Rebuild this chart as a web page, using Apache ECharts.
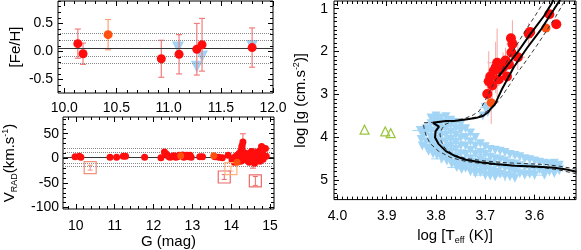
<!DOCTYPE html>
<html><head><meta charset="utf-8">
<script src="https://cdn.jsdelivr.net/npm/echarts@6/dist/echarts.min.js"></script>
<style>html,body{margin:0;padding:0;background:#fff}#c{width:581px;height:250px}</style>
</head><body><div id="c"></div>
<script>
// ---------------- Panel A : [Fe/H] vs G ----------------
const fehRed = [ // [G, FeH, err]
  [10.13, 0.14, 0.26], [10.18, -0.04, 0.19], [10.93, -0.13, 0.33], [11.10, -0.05, 0.35],
  [11.27, 0.04, 0.46], [11.32, 0.12, 0.47], [11.80, 0.07, 0.35]
];
const fehOrange = [[10.42, 0.30, 0.27]];
const fehBlue = [[11.09, 0.07], [11.27, -0.27], [11.32, -0.09], [11.80, 0.10]];
const fehMean = 0.06;
const fehBands = [0.33, 0.20, -0.08, -0.21];
const fehXTicks = [10.0, 10.5, 11.0, 11.5, 12.0];
const fehYTicks = [-0.5, 0.0, 0.5];

// ---------------- Panel B : V_RAD vs G ----------------
const vRed = [
  [9.98,3],[10.09,4],[10.13,2],[10.88,2],[11.05,2],[11.22,4],[11.28,4],[11.77,2],[12.19,1],
  [12.28,13],[12.33,9],[12.38,4],[12.42,2],[12.47,3],[12.52,5],[12.57,2],[12.62,3],[12.66,6],
  [12.75,7],[12.78,2],[12.82,4],[12.86,6],[12.90,3],[12.94,6],[12.97,2],[13.19,3],[13.26,3],
  [13.58,3],[13.68,2],[13.77,1],[13.92,6],
  [14.02,-3],[14.06,0],[14.08,-8],[14.10,3],[14.12,-5],[14.15,6],[14.18,-2],[14.20,10],[14.22,2],
  [14.24,-6],[14.25,15],[14.27,22],[14.28,26],[14.30,33],[14.30,5],[14.32,-3],[14.33,12],[14.35,0],
  [14.37,8],[14.40,-4],[14.42,3],[14.44,10],[14.46,-8],[14.48,0],[14.50,6],[14.52,14],[14.54,-5],
  [14.56,2],[14.58,9],[14.60,-10],[14.62,4],[14.64,12],[14.66,-3],[14.68,7],[14.70,0],[14.72,15],
  [14.74,-6],[14.76,3],[14.78,24],[14.80,9],[14.82,-2],[14.85,5],[14.88,20],[14.90,4]
];
const vOrange = [[12.70,5],[13.55,5],[14.15,-8]];
const vRedErr = [[14.30,33,0,17],[14.56,0,0,20],[14.78,24,0,3]];
const vSquares = [ // [G, V, halfBar]
  [10.37,-19,5],[13.82,-38,5],[13.99,-21,5],[14.62,-46,9]
];
const vSquareColors = ['#f2907a','#f06a6a','#ffb27a','#f06a6a'];
const vMean = 2;
const vBands = [20, 13, -9, -16];
const vXTicks = [10, 11, 12, 13, 14, 15];
const vYTicks = [-100, -50, 0, 50];

// ---------------- Panel C : log g vs log Teff ----------------
const hrRed = [
  [3.556,1.36],[3.570,1.13],[3.609,1.54],[3.612,1.58],[3.648,1.69],[3.645,1.82],[3.647,2.02],
  [3.634,2.13],[3.659,2.21],[3.676,2.26],[3.679,2.37],[3.664,2.37],[3.669,2.43],[3.656,2.58],
  [3.690,2.58],[3.673,2.65],[3.693,2.69],[3.686,2.79],[3.696,2.99],[3.683,2.45],[3.652,2.30]
];
const hrOrange = [[3.577,1.45],[3.688,3.19]];
const hrRedErr = [
  [3.645,1.82,0.012,0.55],[3.676,2.26,0.02,0.8],[3.693,2.69,0.012,0.7],[3.686,2.79,0.015,0.5],
  [3.659,2.21,0.02,0.3],[3.696,2.99,0.01,0.45],[3.612,1.58,0.01,0.25],[3.664,2.37,0.02,0.35],
  [3.634,2.13,0.015,0.3],[3.688,3.19,0.015,0.5],[3.679,2.37,0.01,0.6]
];
const hrGreen = [[3.945,3.82],[3.903,3.86],[3.892,3.90]];
const hrBlue = [
  [3.830,4.05],[3.828,4.20],[3.826,3.95],
  [3.82,3.80],[3.82,3.90],[3.82,4.10],[3.818,4.25],[3.815,4.32],
  [3.81,3.55],[3.81,3.68],[3.81,3.85],[3.81,4.00],[3.81,4.15],[3.808,4.28],[3.806,4.38],
  [3.80,3.50],[3.80,3.62],[3.80,3.75],[3.80,3.90],[3.80,4.05],[3.80,4.20],[3.80,4.33],[3.798,4.42],
  [3.79,3.55],[3.79,3.68],[3.79,3.82],[3.79,3.97],[3.79,4.12],[3.79,4.25],[3.79,4.38],[3.788,4.50],
  [3.78,3.52],[3.78,3.66],[3.78,3.80],[3.78,3.95],[3.78,4.10],[3.78,4.25],[3.78,4.40],[3.778,4.55],
  [3.77,3.60],[3.77,3.72],[3.77,3.88],[3.77,4.05],[3.77,4.20],[3.77,4.35],[3.77,4.50],[3.768,4.62],
  [3.76,3.65],[3.76,3.80],[3.76,3.95],[3.76,4.12],[3.76,4.28],[3.76,4.45],[3.76,4.60],[3.758,4.70],
  [3.75,3.70],[3.75,3.85],[3.75,4.02],[3.75,4.20],[3.75,4.38],[3.75,4.55],[3.75,4.68],[3.748,4.75],
  [3.74,3.80],[3.74,4.00],[3.74,4.20],[3.74,4.40],[3.74,4.58],[3.74,4.72],
  [3.73,3.90],[3.73,4.10],[3.73,4.30],[3.73,4.50],[3.73,4.65],[3.73,4.80],
  [3.72,4.00],[3.72,4.20],[3.72,4.40],[3.72,4.58],[3.72,4.72],[3.72,4.84],
  [3.71,4.15],[3.71,4.35],[3.71,4.52],[3.71,4.68],[3.71,4.82],
  [3.70,4.22],[3.70,4.40],[3.70,4.58],[3.70,4.74],[3.70,4.88],
  [3.69,4.28],[3.69,4.46],[3.69,4.62],[3.69,4.78],[3.69,4.90],
  [3.68,4.30],[3.68,4.50],[3.68,4.66],[3.68,4.82],[3.68,4.92],
  [3.67,4.32],[3.67,4.52],[3.67,4.70],[3.67,4.86],
  [3.66,4.35],[3.66,4.55],[3.66,4.72],[3.66,4.90],
  [3.65,4.40],[3.65,4.60],[3.65,4.76],[3.65,4.92],
  [3.64,4.42],[3.64,4.62],[3.64,4.80],[3.64,4.95],
  [3.63,4.45],[3.63,4.66],[3.63,4.85],
  [3.62,4.50],[3.62,4.70],[3.62,4.88],
  [3.61,4.52],[3.61,4.72],[3.61,4.86],
  [3.60,4.55],[3.60,4.74],[3.60,4.88],
  [3.59,4.58],[3.59,4.76],
  [3.58,4.60],[3.58,4.78],[3.58,4.88],
  [3.57,4.62],[3.57,4.80],
  [3.56,4.60],[3.56,4.72],[3.56,4.84],
  [3.55,4.65],[3.55,4.78],
  [3.832,3.84],[3.700,3.30],[3.695,3.42],[3.705,3.50]
];
const hrBlueErr = [
  [3.832,3.84,0.016,0.05],[3.81,3.68,0.012,0.10],[3.80,4.05,0.010,0.12],[3.79,3.82,0.012,0.10],
  [3.78,4.25,0.015,0.12],[3.77,3.72,0.010,0.08],[3.76,4.45,0.015,0.15],[3.75,4.02,0.012,0.10],
  [3.74,4.58,0.020,0.12],[3.73,4.30,0.015,0.10],[3.72,4.72,0.020,0.15],[3.71,4.52,0.015,0.12],
  [3.70,4.88,0.025,0.10],[3.69,4.62,0.015,0.12],[3.68,4.82,0.020,0.15],[3.67,4.52,0.015,0.10],
  [3.66,4.90,0.020,0.12],[3.65,4.60,0.015,0.10],[3.64,4.80,0.020,0.15],[3.63,4.45,0.015,0.10],
  [3.62,4.70,0.020,0.12],[3.61,4.52,0.015,0.10],[3.60,4.88,0.020,0.10],[3.59,4.58,0.012,0.10],
  [3.58,4.78,0.015,0.12],[3.57,4.62,0.012,0.10],[3.56,4.72,0.010,0.10],[3.55,4.65,0.010,0.10],
  [3.79,4.50,0.020,0.10],[3.70,4.40,0.015,0.10],[3.76,3.95,0.012,0.10],[3.80,3.50,0.010,0.08],
  [3.755,4.70,0.022,0.05],[3.700,3.30,0.010,0.12]
];
const isoMain = [
  [3.515,4.80],[3.535,4.75],[3.56,4.71],[3.60,4.68],[3.64,4.66],[3.68,4.62],[3.71,4.58],
  [3.74,4.52],[3.76,4.44],[3.78,4.32],[3.795,4.15],[3.802,4.00],[3.801,3.86],[3.794,3.75],
  [3.790,3.71],[3.806,3.66],[3.796,3.64],[3.78,3.62],[3.76,3.61],[3.74,3.58],[3.72,3.55],
  [3.705,3.50],[3.695,3.42],[3.688,3.32],[3.681,3.24],[3.666,2.87],[3.642,2.36],[3.615,1.91],
  [3.588,1.50],[3.561,1.02],[3.551,0.84],[3.548,0.80]
];
const isoRgb2 = [[3.673,2.58],[3.635,2.02],[3.608,1.58],[3.581,1.17],[3.565,0.87],[3.562,0.80]];
const isoDashA = [
  [3.515,4.85],[3.55,4.76],[3.58,4.71],[3.62,4.68],[3.66,4.65],[3.70,4.62],[3.74,4.56],
  [3.77,4.47],[3.795,4.32],[3.812,4.14],[3.820,3.96],[3.824,3.80],[3.826,3.66],[3.80,3.645],
  [3.78,3.63],[3.76,3.60],[3.74,3.55],[3.725,3.48],[3.712,3.38],[3.703,3.20],[3.693,2.98],
  [3.682,2.72],[3.668,2.45],[3.652,2.15],[3.635,1.82],[3.617,1.48],[3.598,1.15],[3.582,0.85],[3.578,0.80]
];
const isoDashB = [
  [3.515,4.74],[3.55,4.67],[3.58,4.63],[3.62,4.61],[3.66,4.59],[3.70,4.55],[3.74,4.49],
  [3.765,4.40],[3.782,4.25],[3.79,4.08],[3.792,3.92],[3.788,3.80],[3.782,3.70],[3.77,3.64],
  [3.75,3.60],[3.73,3.56],[3.712,3.50],[3.698,3.40],[3.680,3.24],[3.665,3.02],[3.650,2.76],
  [3.634,2.48],[3.615,2.18],[3.595,1.85],[3.575,1.50],[3.557,1.18],[3.542,0.88],[3.537,0.80]
];
const hrXTicks = [4.0, 3.9, 3.8, 3.7, 3.6];
const hrYTicks = [1, 2, 3, 4, 5];

// ---------------- helpers ----------------
const FONT = 'Liberation Sans, Arial, Helvetica, sans-serif';
function minorList(a, b, step) {
  const out = []; const n = Math.round((b - a) / step);
  for (let i = 0; i <= n; i++) out.push(Math.round((a + i * step) * 1000) / 1000);
  return out;
}
function axisSet(dim, gi, o) {
  const base = { type: 'value', gridIndex: gi, min: o.min, max: o.max, inverse: !!o.inverse,
    axisLine: { show: false, onZero: false }, splitLine: { show: false } };
  const mainPos = dim === 'x' ? 'bottom' : 'left';
  const otherPos = dim === 'x' ? 'top' : 'right';
  const ls = { color: '#000', width: 1 };
  const tick = (vals, len) => ({ show: true, inside: true, length: len, customValues: vals, lineStyle: ls });
  return [
    Object.assign({}, base, { position: mainPos, name: o.name, nameLocation: 'middle', nameGap: o.nameGap,
      nameTextStyle: o.nameStyle,
      axisTick: tick(o.major, 5),
      axisLabel: { show: true, customValues: o.major, formatter: o.fmt, margin: o.margin,
        color: '#000', fontFamily: FONT, fontSize: 14 } }),
    Object.assign({}, base, { position: mainPos, axisTick: tick(o.minor, 3), axisLabel: { show: false } }),
    Object.assign({}, base, { position: otherPos, axisTick: tick(o.major, 5), axisLabel: { show: false } }),
    Object.assign({}, base, { position: otherPos, axisTick: tick(o.minor, 3), axisLabel: { show: false } })
  ];
}
function errSeries(gi, data, color, cap, width, z) {
  return {
    type: 'custom', xAxisIndex: gi * 4, yAxisIndex: gi * 4, clip: true, z: z || 2, silent: true,
    data: data,
    renderItem: function (params, api) {
      const x = api.value(0), y = api.value(1), ex = api.value(2), ey = api.value(3);
      const c = api.coord([x, y]);
      const st = { stroke: color, lineWidth: width };
      const ch = [];
      if (ey > 0) {
        const a = api.coord([x, y - ey]), b = api.coord([x, y + ey]);
        ch.push({ type: 'line', shape: { x1: c[0], y1: a[1], x2: c[0], y2: b[1] }, style: st });
        if (cap) {
          ch.push({ type: 'line', shape: { x1: c[0] - cap, y1: a[1], x2: c[0] + cap, y2: a[1] }, style: st });
          ch.push({ type: 'line', shape: { x1: c[0] - cap, y1: b[1], x2: c[0] + cap, y2: b[1] }, style: st });
        }
      }
      if (ex > 0) {
        const a = api.coord([x - ex, y]), b = api.coord([x + ex, y]);
        ch.push({ type: 'line', shape: { x1: a[0], y1: c[1], x2: b[0], y2: c[1] }, style: st });
        if (cap) {
          ch.push({ type: 'line', shape: { x1: a[0], y1: c[1] - cap, x2: a[0], y2: c[1] + cap }, style: st });
          ch.push({ type: 'line', shape: { x1: b[0], y1: c[1] - cap, x2: b[0], y2: c[1] + cap }, style: st });
        }
      }
      return { type: 'group', children: ch };
    }
  };
}
function scatter(gi, data, opts) {
  const s = Object.assign({ type: 'scatter', xAxisIndex: gi * 4, yAxisIndex: gi * 4, data: data,
    symbol: 'circle', symbolSize: 8, silent: true, z: 3 }, opts);
  s.itemStyle = Object.assign({ opacity: 1 }, s.itemStyle || {});
  return s;
}
function lineS(gi, data, color, width, type, z) {
  return { type: 'line', xAxisIndex: gi * 4, yAxisIndex: gi * 4, data: data, showSymbol: false,
    symbol: 'none', silent: true, z: z || 4, lineStyle: { color: color, width: width, type: type } };
}
function hline(gi, y, color, type, width) {
  return { type: 'line', xAxisIndex: gi * 4, yAxisIndex: gi * 4, data: [], silent: true, z: 1,
    markLine: { silent: true, symbol: 'none', label: { show: false }, animation: false,
      lineStyle: { color: color, type: type, width: width }, data: [{ yAxis: y }] } };
}
const nameBase = { color: '#000', fontFamily: FONT, fontSize: 15 };
const richName = (extra) => Object.assign({}, nameBase, { rich: {
  n: { fontSize: 15, lineHeight: 18, fontFamily: FONT, color: '#000' },
  s: { fontSize: 9, lineHeight: 9, verticalAlign: 'bottom', fontFamily: FONT, color: '#000' },
  p: { fontSize: 9, lineHeight: 9, verticalAlign: 'top', fontFamily: FONT, color: '#000' }
} }, extra || {});

const xAxes = [].concat(
  axisSet('x', 0, { min: 9.94, max: 12.0, major: fehXTicks, minor: minorList(10.0, 12.0, 0.1),
    fmt: v => v.toFixed(1), margin: 8 }),
  axisSet('x', 1, { min: 9.67, max: 15.1, major: vXTicks, minor: minorList(9.8, 15.0, 0.2),
    fmt: v => String(v), margin: 10, name: 'G (mag)', nameGap: 24, nameStyle: nameBase }),
  axisSet('x', 2, { min: 3.516, max: 4.007, inverse: true, major: hrXTicks, minor: minorList(3.52, 4.0, 0.01),
    fmt: v => v.toFixed(1), margin: 10, name: '{n|log [T}{s|eff}{n| (K)]}', nameGap: 22, nameStyle: richName() })
);
const yAxes = [].concat(
  axisSet('y', 0, { min: -0.74, max: 0.9, major: fehYTicks, minor: minorList(-0.7, 0.9, 0.1),
    fmt: v => v.toFixed(1), margin: 5, name: '[Fe/H]', nameGap: 35, nameStyle: nameBase }),
  axisSet('y', 1, { min: -103, max: 84, major: vYTicks, minor: minorList(-100, 80, 10),
    fmt: v => String(v), margin: 4, name: '{n|V}{s|RAD}{n|(km.s}{p|-1}{n|)}', nameGap: 44, nameStyle: richName() }),
  axisSet('y', 2, { min: 0.82, max: 5.45, inverse: true, major: hrYTicks, minor: minorList(0.9, 5.4, 0.1),
    fmt: v => String(v), margin: 6, name: '{n|log [g (cm.s}{p|-2}{n|)]}', nameGap: 24, nameStyle: richName() })
);

const RED = '#ff0d0d', ORANGE = '#ff5010', BLUE = '#a2d5f5', PINK = '#f47c7c';
const series = [];
// Panel A
series.push(hline(0, fehBands[0], '#888', 'dotted', 1), hline(0, fehBands[1], '#888', 'dotted', 1),
  hline(0, fehBands[2], '#888', 'dotted', 1), hline(0, fehBands[3], '#888', 'dotted', 1),
  hline(0, fehMean, '#333', 'solid', 1.2));
series.push(scatter(0, fehBlue, { symbol: 'triangle', symbolRotate: 180, symbolSize: 12, itemStyle: { color: BLUE }, z: 2 }));
series.push(errSeries(0, fehRed.map(d => [d[0], d[1], 0, d[2]]), PINK, 3, 1.2, 3));
series.push(errSeries(0, fehOrange.map(d => [d[0], d[1], 0, d[2]]), '#fca07a', 3, 1.2, 3));
series.push(scatter(0, fehRed.map(d => [d[0], d[1]]), { symbolSize: 9, itemStyle: { color: RED }, z: 5 }));
series.push(scatter(0, fehOrange.map(d => [d[0], d[1]]), { symbolSize: 9, itemStyle: { color: ORANGE }, z: 5 }));
// Panel B
series.push(hline(1, vBands[0], '#888', 'dotted', 1), hline(1, vBands[1], '#888', 'dotted', 1),
  hline(1, vBands[2], '#888', 'dotted', 1), hline(1, vBands[3], '#888', 'dotted', 1),
  hline(1, vMean, '#333', 'solid', 1.2));
series.push(errSeries(1, vRedErr, PINK, 3, 1.2, 3));
series.push(scatter(1, vRed, { symbolSize: 7, itemStyle: { color: RED }, z: 5 }));
series.push(scatter(1, vOrange, { symbolSize: 7, itemStyle: { color: ORANGE }, z: 6 }));
vSquares.forEach((d, i) => {
  series.push(scatter(1, [[d[0], d[1]]], { symbol: 'rect', symbolSize: 12,
    itemStyle: { color: 'rgba(0,0,0,0)', borderColor: vSquareColors[i], borderWidth: 1.2 }, z: 5 }));
  series.push(errSeries(1, [[d[0], d[1], 0, d[2]]], vSquareColors[i], 2.5, 1, 5));
});
// Panel C
series.push(errSeries(2, hrBlueErr, BLUE, 0, 1, 1));
series.push(scatter(2, hrBlue, { symbol: 'triangle', symbolRotate: 180, symbolSize: 9, itemStyle: { color: BLUE }, z: 2 }));
series.push(scatter(2, hrGreen, { symbol: 'triangle', symbolSize: 9,
  itemStyle: { color: 'rgba(0,0,0,0)', borderColor: '#9bc53d', borderWidth: 1.2 }, z: 3 }));
series.push(errSeries(2, hrRedErr, '#f7a5a5', 0, 1, 2));
series.push(scatter(2, hrRed, { symbolSize: 10, itemStyle: { color: RED }, z: 3 }));
series.push(scatter(2, hrOrange, { symbolSize: 9, itemStyle: { color: ORANGE }, z: 3 }));
series.push(lineS(2, isoDashA, '#333', 1, [4, 3], 4));
series.push(lineS(2, isoDashB, '#333', 1, [4, 3], 4));
series.push(lineS(2, isoMain, '#000', 2, 'solid', 5));
series.push(lineS(2, isoRgb2, '#000', 2, 'solid', 5));

const chart = echarts.init(document.getElementById('c'), null, { renderer: 'canvas' });
chart.setOption({
  animation: false,
  backgroundColor: '#fff',
  grid: [
    { left: 58, top: 1, width: 215, height: 92, show: true, borderColor: '#000', borderWidth: 1, containLabel: false },
    { left: 61, top: 117, width: 213, height: 92, show: true, borderColor: '#000', borderWidth: 1, containLabel: false },
    { left: 334, top: 1, width: 242, height: 208, show: true, borderColor: '#000', borderWidth: 1, containLabel: false }
  ],
  xAxis: xAxes,
  yAxis: yAxes,
  series: series
});
</script></body></html>
